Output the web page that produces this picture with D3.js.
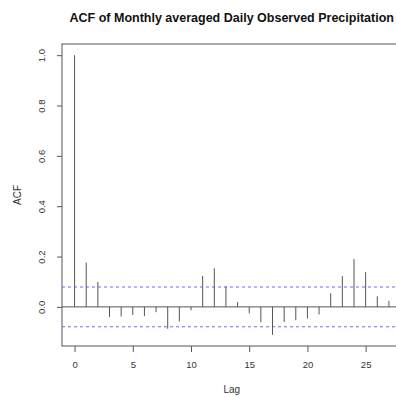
<!DOCTYPE html>
<html><head><meta charset="utf-8">
<script src="https://cdn.jsdelivr.net/npm/d3@7"></script>
<style>html,body{margin:0;padding:0;background:#fff;}svg{display:block;}</style>
</head><body>
<script>
const lags = d3.range(0, 28);
const acfValues = [1.0, 0.176, 0.099, -0.040, -0.038, -0.032, -0.037, -0.021, -0.087, -0.058,
  -0.013, 0.123, 0.153, 0.081, 0.019, -0.026, -0.061, -0.111, -0.060, -0.053,
  -0.046, -0.030, 0.054, 0.122, 0.190, 0.138, 0.042, 0.024];
const ciBound = 0.079;
const xTicks = [0, 5, 10, 15, 20, 25];
const yTicks = [0.0, 0.2, 0.4, 0.6, 0.8, 1.0];
const titleText = "ACF of Monthly averaged Daily Observed Precipitation";

const W = 396, H = 398;
const mLeft = 62, mTop = 44, mBottom = 346, mRight = 401.5;
const svg = d3.select("body").append("svg").attr("width", W).attr("height", H);

const x = d3.scaleLinear().domain([-1.08, 28.08]).range([mLeft, mRight]);
const y = d3.scaleLinear().domain([-0.1554, 1.0444]).range([mBottom, mTop]);
const font = "Liberation Sans, Arial, Helvetica, sans-serif";

// box
svg.append("rect").attr("x", mLeft).attr("y", mTop).attr("width", mRight - mLeft).attr("height", mBottom - mTop)
  .attr("fill", "none").attr("stroke", "#555").attr("stroke-width", 1);

// zero line
svg.append("line").attr("x1", mLeft).attr("x2", W).attr("y1", y(0)).attr("y2", y(0))
  .attr("stroke", "#555").attr("stroke-width", 1);

// CI lines
[ciBound, -ciBound].forEach(v => {
  svg.append("line").attr("x1", mLeft).attr("x2", W).attr("y1", y(v)).attr("y2", y(v))
    .attr("stroke", "#6a6aff").attr("stroke-width", 1).attr("stroke-dasharray", "3,3");
});

// spikes
svg.selectAll(".spike").data(lags).enter().append("line")
  .attr("x1", d => x(d)).attr("x2", d => x(d))
  .attr("y1", y(0)).attr("y2", (d, i) => y(acfValues[i]))
  .attr("stroke", "#555").attr("stroke-width", 1);

// x axis
const xAxis = d3.axisBottom(x).tickValues(xTicks).tickSize(6).tickPadding(9).tickFormat(d3.format("d"));
const gx = svg.append("g").attr("transform", `translate(0,${mBottom})`).call(xAxis);
gx.select(".domain").remove();
gx.selectAll("line").attr("stroke", "#555");
gx.selectAll("text").attr("font-family", font).attr("font-size", 9.5).attr("fill", "#333");

// y axis
const yAxis = d3.axisLeft(y).tickValues(yTicks).tickSize(5).tickFormat(d3.format(".1f"));
const gy = svg.append("g").attr("transform", `translate(${mLeft},0)`).call(yAxis);
gy.select(".domain").remove();
gy.selectAll("line").attr("stroke", "#555");
gy.selectAll("text").attr("font-family", font).attr("font-size", 9.5).attr("fill", "#333")
  .attr("x", null).attr("dy", null)
  .attr("text-anchor", "middle")
  .attr("transform", "translate(-17,0) rotate(-90)");

// labels
svg.append("text").attr("x", (mLeft + mRight) / 2).attr("y", 22).attr("text-anchor", "middle")
  .attr("font-family", font).attr("font-weight", "bold").attr("font-size", 12.5).attr("fill", "#111").text(titleText);
svg.append("text").attr("x", (mLeft + mRight) / 2).attr("y", 393).attr("text-anchor", "middle")
  .attr("font-family", font).attr("font-size", 10).attr("fill", "#333").text("Lag");
svg.append("text").attr("transform", `translate(21,${(mTop + mBottom) / 2}) rotate(-90)`).attr("text-anchor", "middle")
  .attr("font-family", font).attr("font-size", 10).attr("fill", "#333").text("ACF");
</script>
</body></html>
